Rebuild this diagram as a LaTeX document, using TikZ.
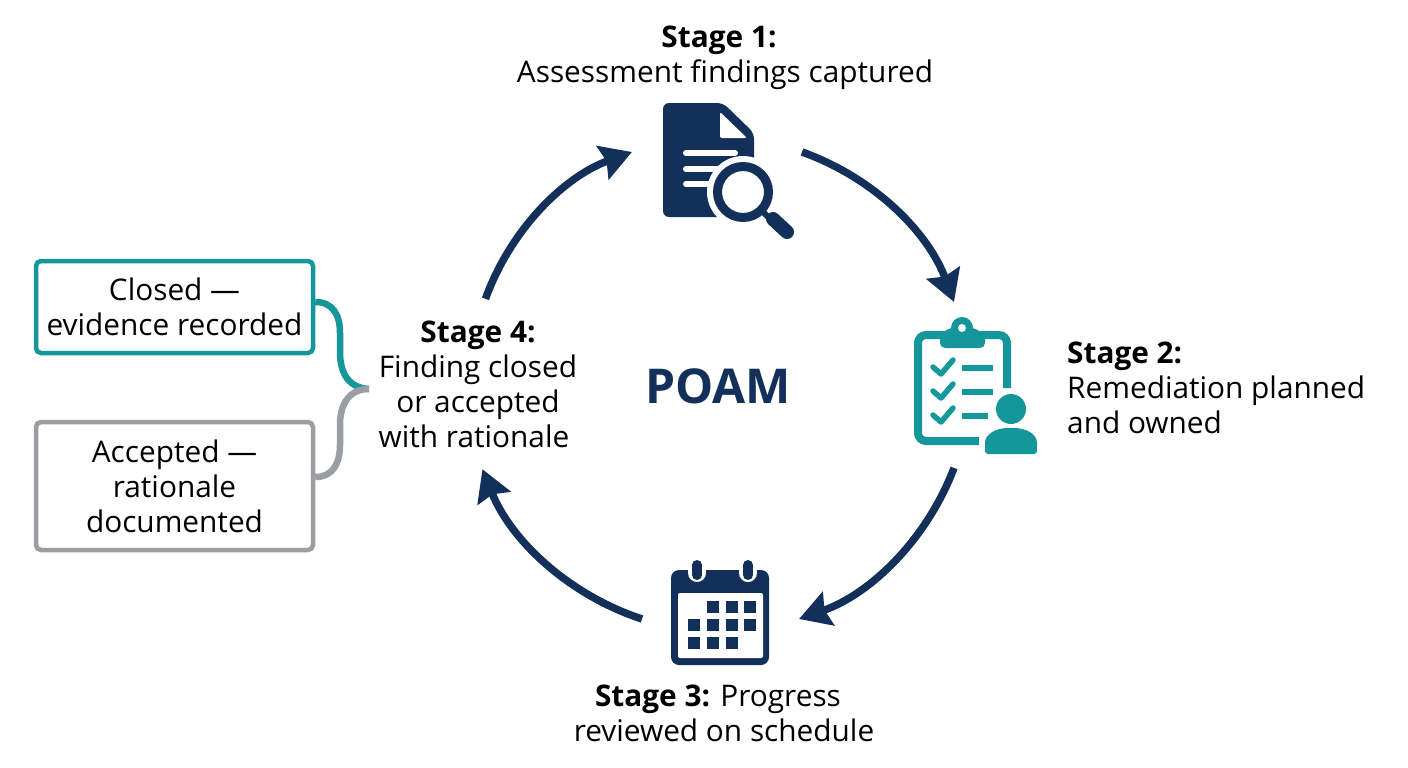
\documentclass[tikz,border=0pt]{standalone}
\usepackage{fontspec}
\setmainfont{Open Sans}
\usetikzlibrary{positioning,arrows.meta,calc}
\definecolor{poamnavy}{HTML}{12305A}
\definecolor{poamteal}{HTML}{15969B}
\definecolor{poamgray}{HTML}{9A9EA2}
\tikzset{
  cycletext/.style={align=left,font=\fontsize{29.8}{35}\selectfont,text=black,inner sep=0pt},
  centertext/.style={cycletext,align=center},
  iconslot/.style={inner sep=0pt,outer sep=0pt},
  outcomebox/.style={draw,line width=4.5pt,rounded corners=5pt,fill=white,align=center,inner sep=0pt,font=\fontsize{29.8}{35}\selectfont},
  cyclearrow/.style={poamnavy,line width=7.5pt,-{Stealth[length=31pt,width=35pt,inset=4pt]},bend left=25,looseness=.9},
  bracelink/.style={line width=6.5pt}
}
\begin{document}
\begin{tikzpicture}[x=1pt,y=-1pt]
    \useasboundingbox (0,0) rectangle (1408,768);
    % cycle labels
    \node[centertext] (stage1) at (725,58) {\textbf{Stage 1:}\hspace*{12pt}\\Assessment findings captured};
    \node[cycletext,anchor=west] (stage2) at (1067,388) {\textbf{Stage 2:}\\Remediation planned\\and owned};
    \node[centertext] (stage3) at (724,713.5) {\textbf{Stage 3:} Progress\hspace*{12pt}\\reviewed on schedule};
    \node[centertext,minimum height=170pt] (stage4) at (478,384) {\textbf{Stage 4:}\\Finding closed\\or accepted\hspace*{2pt}\\with rationale\hspace*{8pt}};
    \node[poamnavy,inner sep=0pt,font=\fontsize{48}{52}\selectfont\bfseries] (poam) at (718,386) {POAM};
    % slots the arrows run between
    \node[iconslot,minimum width=170pt,minimum height=10pt] (finding) at (717,152) {};
    \node[iconslot,minimum width=124pt,minimum height=166pt] (plan) at (954,385) {};
    \node[iconslot,minimum width=157pt,minimum height=10pt] (review) at (720.5,619) {};
    \draw[cyclearrow] (finding.east) to (plan.north);
    \draw[cyclearrow] (plan.south) to (review.east);
    \draw[cyclearrow] (review.west) to (stage4.-87);
    \draw[cyclearrow] (stage4.85) to (finding.west);
    % outcome boxes
    \node[outcomebox,draw=poamteal,minimum width=277pt,minimum height=92pt] (closed) at (174.5,307) {Closed ---\\evidence recorded};
    \node[outcomebox,draw=poamgray,minimum width=277pt,minimum height=128pt] (accepted) at (174.5,486) {Accepted ---\\rationale\\documented};
    \coordinate (join) at (369,389);
    \draw[bracelink,poamteal] (closed.east |- 0,302) .. controls (333,302) and (340,315) .. (340,333) -- (340,352) .. controls (340,375) and (350,388) .. (join);
    \draw[bracelink,poamgray] (accepted.east |- 0,477) .. controls (333,477) and (340,463) .. (340,445) -- (340,425) .. controls (340,403) and (350,389) .. (join);
    % document and magnifier
    \begin{scope}[shift={(663,103)}]
        \fill[poamnavy,rounded corners=6pt] (0,0) -- (60,0) -- (91,30) -- (91,114) -- (0,114) -- cycle;
        \fill[white,rounded corners=2pt] (57,9) -- (84,35) -- (57,35) -- cycle;
        \foreach \ly/\lx in {50/72,66/54,81/47}
            \draw[white,line width=6pt,line cap=round] (23,\ly) -- (\lx,\ly);
        \fill[white] (80,89) circle (36);
        \draw[poamnavy,line width=9pt,fill=white] (80,89) circle (25.5);
        \draw[poamnavy,line width=6pt] (98,107) -- (110,119);
        \draw[poamnavy,line width=14pt,line cap=round] (110,116) -- (124,129);
    \end{scope}
    % clipboard with person
    \begin{scope}[shift={(914,317)}]
        \draw[poamteal,line width=8pt,rounded corners=8pt] (65,124) -- (4,124) -- (4,18) -- (93,18) -- (93,71);
        \fill[poamteal,rounded corners=5pt] (26,14) -- (71,14) -- (71,31) -- (26,31) -- cycle;
        \fill[poamteal] (48,11) circle (11);
        \fill[poamteal] (48,16) ellipse (18 and 6);
        \fill[white] (48,11) circle (4);
        \foreach \ly in {50,74,98} {
            \draw[poamteal,line width=5.5pt,line cap=round,line join=round] (19,\ly) -- (27,\ly+7) -- (39,\ly-7);
            \draw[poamteal,line width=6pt] (48,\ly+1) -- (\ifnum\ly=98 74\else 79\fi,\ly+1);
        }
        \fill[poamteal] (97,92) circle (15);
        \fill[poamteal,rounded corners=3pt] (71,137) -- (71,129) .. controls (71,117) and (82,111) .. (97,111) .. controls (112,111) and (123,117) .. (123,129) -- (123,137) -- cycle;
    \end{scope}
    % calendar
    \begin{scope}[shift={(671,558)}]
        \fill[poamnavy,rounded corners=8pt] (0,12) rectangle (98,107);
        \fill[white,rounded corners=2pt] (7,35) rectangle (92,100);
        \foreach \kx in {26,77} {
            \draw[white,line width=18pt,line cap=round] (\kx,6) -- (\kx,15);
            \draw[poamnavy,line width=10pt,line cap=round] (\kx,7) -- (\kx,17);
        }
        \foreach \cx/\cy in {36/43,55/43,73/43,17/61,36/61,55/61,73/61,17/79,36/79,55/79}
            \fill[poamnavy] (\cx,\cy) rectangle +(12,12);
    \end{scope}
\end{tikzpicture}
\end{document}
